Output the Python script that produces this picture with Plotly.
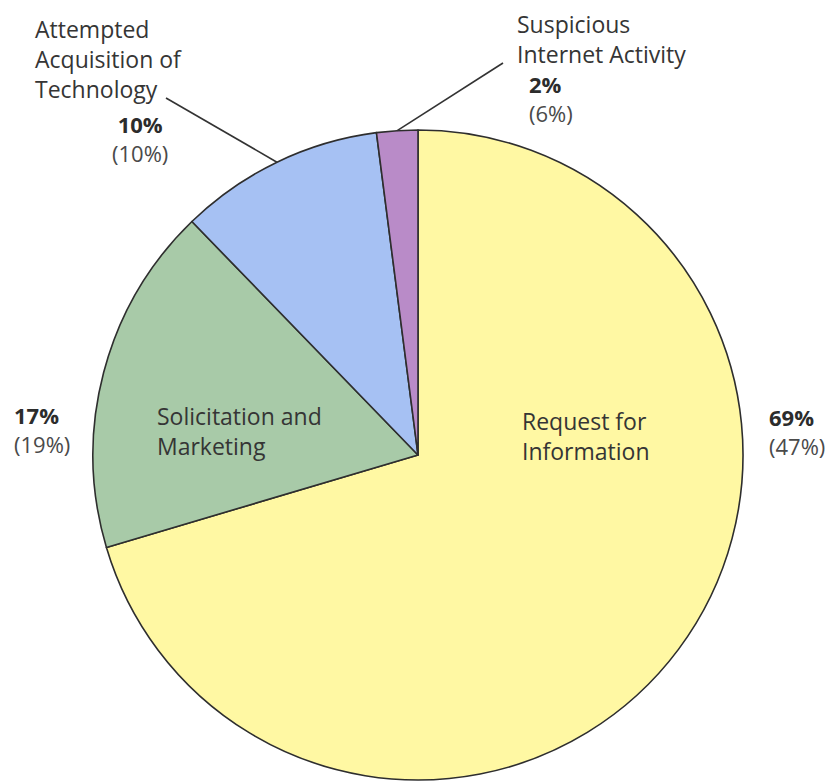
import math
import plotly.graph_objects as go

# ---- data ----
categories = ["Request for Information", "Solicitation and Marketing",
              "Attempted Acquisition of Technology", "Suspicious Internet Activity"]
share_now = [69, 17, 10, 2]          # bold percentages
share_prior = [47, 19, 10, 6]        # percentages in parentheses
slice_colors = ["#fff8a3", "#a8caa8", "#a6c1f3", "#b98bc8"]

W, H = 831, 781
CX, CY, R = 418, 455, 325            # pie geometry in pixels

def px(x):
    return x / W

def py(y):
    return 1 - y / H

fig = go.Figure()
fig.add_trace(go.Pie(
    labels=categories,
    values=share_now,
    sort=False,
    direction="clockwise",
    rotation=0,
    marker=dict(colors=slice_colors, line=dict(color="#2e2e2e", width=1.6)),
    textinfo="none",
    hoverinfo="label+value",
    showlegend=False,
    domain=dict(x=[px(CX - R), px(CX + R)], y=[py(CY + R), py(CY - R)]),
))

FONT = "Open Sans, Noto Sans, sans-serif"
ann = []

LBL = "#353535"
PCT = "#2c2c2c"
PAR = "#4a4a4a"

def block(text, x_left, first_baseline, size, color):
    top = first_baseline - 1.069 * size - 1
    ann.append(dict(text=text, x=px(x_left), y=py(top), xref="paper", yref="paper",
                    xanchor="left", yanchor="top", align="left", showarrow=False,
                    font=dict(family=FONT, size=size, color=color)))

def pct_block(i, x_left, first_baseline, align="left"):
    text = (f"<b>{share_now[i]}%</b><br>"
            f"<span style='color:{PAR}'>({share_prior[i]}%)</span>")
    block(text, x_left, first_baseline, 22, PCT)
    ann[-1]["align"] = align

# outside labels
block("Attempted<br>Acquisition of<br>Technology", 33, 37, 23, LBL)
pct_block(2, 110, 132, align="center")

block("Suspicious<br>Internet Activity", 515, 32, 23, LBL)
pct_block(3, 527, 92)

pct_block(1, 12, 423)
pct_block(0, 767, 425)

# inside labels
block("Solicitation and<br>Marketing", 155, 424, 23, LBL)
block("Request for<br>Information", 520, 429, 23, LBL)

# leader lines to slice mid-points on the rim (clockwise from 12 o'clock)
total = sum(share_now)
cum = 0
mids = []
for v in share_now:
    mids.append((cum + v / 2) / total * 360)
    cum += v

def rim(deg):
    a = math.radians(deg)
    return CX + R * math.sin(a), CY - R * math.cos(a)

shapes = []
for idx, (sx, sy) in [(2, (166, 98)), (3, (503, 63))]:
    ex, ey = rim(mids[idx])
    shapes.append(dict(type="line", xref="paper", yref="paper",
                       x0=px(sx), y0=py(sy), x1=px(ex), y1=py(ey),
                       line=dict(color="#333333", width=1.6)))

fig.update_layout(
    width=W, height=H,
    margin=dict(l=0, r=0, t=0, b=0),
    paper_bgcolor="white", plot_bgcolor="white",
    annotations=ann, shapes=shapes,
)

fig.write_html("out.html",
               config={"displayModeBar": False},
               post_script="document.body.style.margin='0';document.body.style.padding='0';")
